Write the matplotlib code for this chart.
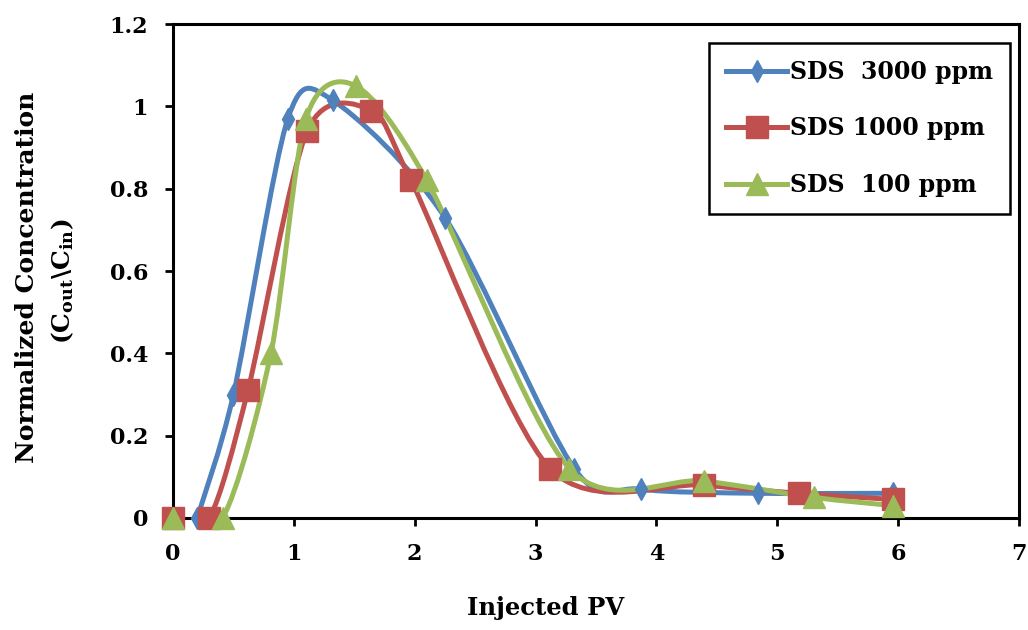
import numpy as np
import matplotlib
matplotlib.use('Agg')
import matplotlib.pyplot as plt
from matplotlib.path import Path
from matplotlib.patches import PathPatch
from matplotlib.lines import Line2D

# data
x_3000 = [0.2, 0.5, 0.95, 1.32, 2.25, 3.32, 3.87, 4.84, 5.96]
y_3000 = [0.0, 0.30, 0.97, 1.015, 0.73, 0.12, 0.07, 0.06, 0.06]

x_1000 = [0.0, 0.3, 0.62, 1.11, 1.64, 1.97, 3.12, 4.39, 5.18, 5.96]
y_1000 = [0.0, 0.0, 0.31, 0.94, 0.99, 0.82, 0.12, 0.08, 0.06, 0.045]

x_100 = [0.0, 0.41, 0.81, 1.1, 1.51, 2.1, 3.28, 4.39, 5.3, 5.96]
y_100 = [0.0, 0.0, 0.40, 0.97, 1.05, 0.82, 0.12, 0.09, 0.05, 0.03]

labels = ['SDS  3000 ppm', 'SDS 1000 ppm', 'SDS  100 ppm']
colors = ['#4F81BD', '#C0504D', '#9BBB59']
markers = ['d', 's', '^']
msizes = [11, 16, 16]

xticks = [0, 1, 2, 3, 4, 5, 6, 7]
yticks = [0, 0.2, 0.4, 0.6, 0.8, 1, 1.2]
ytick_labels = ['0', '0.2', '0.4', '0.6', '0.8', '1', '1.2']


def smooth_path(xs, ys, k=1 / 7):
    # smoothed line through the points (cardinal spline as cubic Bezier)
    pts = np.column_stack([xs, ys]).astype(float)
    n = len(pts)
    verts = [pts[0]]
    codes = [Path.MOVETO]
    for i in range(n - 1):
        p0 = pts[i - 1] if i > 0 else pts[i]
        p1 = pts[i]
        p2 = pts[i + 1]
        p3 = pts[i + 2] if i + 2 < n else pts[i + 1]
        verts += [p1 + (p2 - p0) * k, p2 - (p3 - p1) * k, p2]
        codes += [Path.CURVE4] * 3
    return Path(verts, codes)


plt.rcParams['font.family'] = ['DejaVu Serif']
plt.rcParams['font.weight'] = 'bold'
plt.rcParams['mathtext.fontset'] = 'dejavuserif'

fig = plt.figure(figsize=(10.28, 6.3), dpi=100)
ax = fig.add_axes([0.1683, 0.1778, 0.823, 0.784])

series = [(x_3000, y_3000), (x_1000, y_1000), (x_100, y_100)]
handles = []
for (xs, ys), c, m, ms, lab in zip(series, colors, markers, msizes, labels):
    patch = PathPatch(smooth_path(xs, ys), facecolor='none', edgecolor=c,
                      lw=3.6, zorder=2)
    ax.add_patch(patch)
    ax.plot(xs, ys, linestyle='none', marker=m, markersize=ms, color=c,
            markeredgecolor=c, zorder=3, clip_on=False)
    handles.append(Line2D([], [], color=c, lw=3.6, marker=m, markersize=ms,
                          markeredgecolor=c, label=lab))

ax.set_xlim(0, 7)
ax.set_ylim(0, 1.2)
ax.set_xticks(xticks)
ax.set_yticks(yticks)
ax.set_yticklabels(ytick_labels)
for sp in ax.spines.values():
    sp.set_linewidth(2.2)
ax.tick_params(axis='both', direction='out', length=6, width=2,
               labelsize=16)
ax.tick_params(axis='x', pad=12)
ax.tick_params(axis='y', pad=12)

leg = ax.legend(handles=handles, loc='upper right',
                bbox_to_anchor=(0.989, 0.962), borderaxespad=0,
                fancybox=False, edgecolor='black', framealpha=1,
                fontsize=17, handlelength=2.6, handletextpad=0.1,
                labelspacing=1.38, borderpad=0.72)
leg.get_frame().set_linewidth(1.8)
leg.set_zorder(5)

fig.text(546 / 1028, 1 - 608 / 630, 'Injected PV', ha='center', va='center',
         fontsize=17.5, fontweight='bold')
fig.text(27 / 1028, 1 - 277 / 630, 'Normalized Concentration', ha='center',
         va='center', rotation=90, fontsize=18, fontweight='bold')
fig.text(63 / 1028, 1 - 281 / 630, r'(C$_\mathbf{out}$\C$_\mathbf{in}$)',
         ha='center', va='center', rotation=90, fontsize=18,
         fontweight='bold')

plt.savefig('out.png', dpi=100)
